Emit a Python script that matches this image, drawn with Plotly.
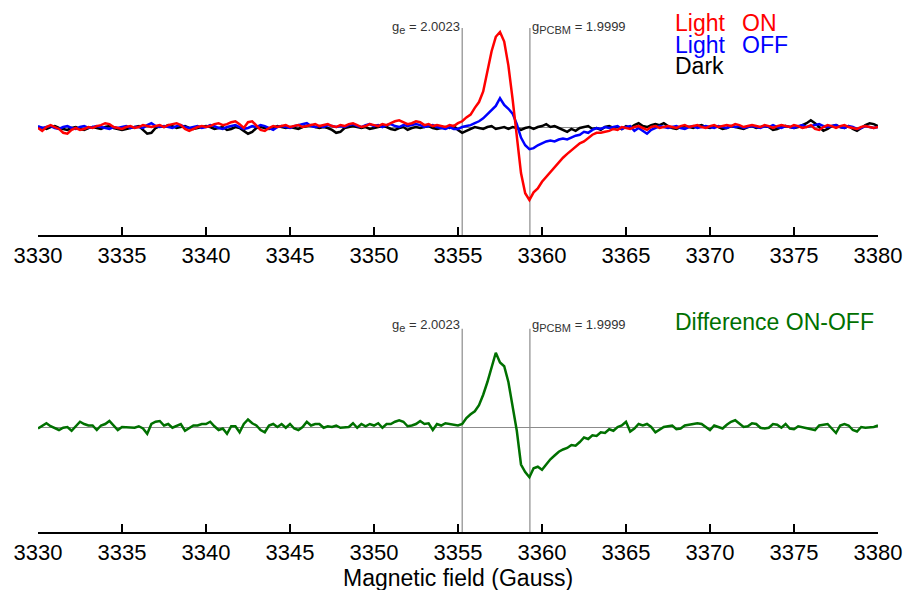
import numpy as np
import plotly.graph_objects as go

# Magnetic field sweep (Gauss), 0.25 G steps
field = np.linspace(3330, 3380, 201)

# EPR signal, light ON (a.u.)
light_on = [
    0.00, -0.03, 0.01, 0.03, 0.01, -0.01, -0.05, -0.06, -0.02, 0.00,
    -0.02, -0.01, 0.01, 0.00, 0.02, 0.03, 0.05, 0.04, 0.01, 0.00,
    -0.01, 0.01, 0.02, 0.00, 0.01, 0.03, 0.02, 0.01, 0.02, 0.03,
    0.01, 0.03, 0.04, 0.05, 0.03, -0.01, -0.03, -0.01, 0.01, 0.02,
    0.01, 0.02, 0.04, 0.05, 0.03, 0.04, 0.06, 0.07, 0.04, 0.00,
    0.06, 0.07, 0.03, -0.02, -0.03, 0.00, 0.02, 0.01, 0.02, 0.03,
    0.01, 0.02, 0.03, 0.01, 0.02, 0.03, 0.04, 0.02, 0.03, 0.04,
    0.02, 0.01, 0.03, 0.02, 0.04, 0.05, 0.03, 0.01, 0.02, 0.04,
    0.03, 0.02, 0.04, 0.03, 0.05, 0.07, 0.08, 0.06, 0.04, 0.05,
    0.07, 0.06, 0.03, 0.04, 0.02, 0.03, 0.02, 0.01, 0.03, 0.02,
    0.05, 0.07, 0.11, 0.14, 0.21, 0.27, 0.38, 0.60, 0.80, 0.95,
    1.00, 0.90, 0.65, 0.30, -0.08, -0.47, -0.68, -0.75, -0.67, -0.63,
    -0.56, -0.51, -0.45, -0.40, -0.35, -0.31, -0.27, -0.23, -0.20, -0.16,
    -0.14, -0.10, -0.07, -0.05, -0.05, -0.04, -0.03, -0.01, -0.02, 0.01,
    0.00, -0.01, 0.01, 0.02, 0.00, -0.02, 0.01, 0.02, 0.00, 0.01,
    0.02, 0.01, 0.00, 0.02, 0.03, 0.01, 0.02, 0.03, 0.01, 0.00,
    0.02, 0.03, 0.01, 0.02, 0.03, 0.02, 0.04, 0.03, 0.01, 0.02,
    0.03, 0.02, 0.01, 0.03, 0.02, 0.00, 0.02, 0.03, 0.02, 0.01,
    0.03, 0.02, 0.00, 0.01, 0.03, -0.01, -0.02, 0.01, 0.03, 0.02,
    0.00, 0.02, 0.03, 0.01, 0.00, -0.01, 0.01, 0.02, 0.01, 0.00,
    0.01,
]

# EPR signal, light OFF (a.u.)
light_off = [
    0.02, 0.00, 0.01, 0.02, 0.00, -0.01, 0.01, 0.02, 0.00, -0.01,
    0.01, 0.02, 0.00, 0.01, 0.02, 0.01, 0.00, -0.01, 0.01, 0.00,
    0.01, 0.02, 0.00, 0.01, 0.01, 0.00, 0.03, 0.05, 0.02, 0.01,
    0.02, 0.01, 0.00, 0.02, 0.03, 0.01, 0.00, 0.01, 0.02, 0.00,
    0.01, 0.03, 0.02, 0.00, -0.01, 0.01, 0.02, 0.03, 0.01, -0.01,
    0.00, 0.02, 0.01, 0.03, 0.02, 0.00, -0.02, 0.01, 0.02, 0.01,
    0.00, 0.02, 0.03, 0.04, 0.05, 0.02, 0.01, 0.02, 0.01, 0.03,
    0.02, 0.01, 0.02, 0.01, 0.03, 0.04, 0.02, 0.01, 0.03, 0.04,
    0.02, 0.03, 0.01, 0.03, 0.04, 0.02, 0.01, 0.03, 0.02, 0.03,
    0.04, 0.03, 0.01, 0.02, 0.03, 0.01, 0.00, -0.01, 0.01, -0.01,
    -0.01, 0.01, 0.02, 0.03, 0.05, 0.07, 0.10, 0.14, 0.19, 0.23,
    0.31, 0.24, 0.20, 0.15, 0.04, -0.10, -0.18, -0.22, -0.21, -0.18,
    -0.16, -0.14, -0.13, -0.14, -0.12, -0.11, -0.12, -0.10, -0.08, -0.07,
    -0.04, -0.05, -0.02, 0.00, -0.01, 0.01, 0.00, 0.01, 0.02, -0.01,
    0.01, 0.02, -0.03, 0.00, -0.03, -0.06, -0.02, 0.00, 0.02, 0.01,
    0.00, 0.01, 0.02, 0.00, -0.01, 0.01, 0.02, 0.00, 0.01, 0.02,
    0.01, 0.00, 0.02, 0.01, 0.00, 0.02, 0.01, 0.02, 0.00, 0.01,
    0.02, 0.01, 0.00, 0.02, 0.01, 0.03, 0.01, 0.00, 0.02, 0.01,
    0.00, 0.02, 0.03, 0.01, 0.02, 0.03, 0.04, 0.02, 0.01, 0.02,
    0.03, 0.01, 0.00, 0.02, 0.01, -0.01, 0.00, 0.02, 0.01, 0.00,
    0.01,
]

# EPR signal in the dark (a.u.)
dark = [
    0.01, 0.00, -0.01, 0.01, 0.02, 0.00, -0.01, -0.02, 0.00, 0.01,
    -0.01, -0.02, 0.00, 0.01, 0.00, -0.01, 0.01, 0.02, 0.00, -0.01,
    -0.02, -0.01, 0.00, 0.01, 0.02, -0.02, -0.06, -0.05, 0.00, 0.02,
    0.01, 0.03, 0.02, 0.00, 0.01, 0.02, 0.00, -0.01, 0.00, 0.01,
    0.02, 0.01, -0.01, 0.00, 0.01, -0.02, -0.01, 0.01, 0.00, -0.03,
    -0.06, -0.04, 0.00, 0.01, 0.00, -0.01, 0.00, 0.02, 0.01, 0.00,
    0.01, 0.00, -0.01, 0.01, 0.02, 0.03, 0.01, 0.00, 0.01, 0.00,
    -0.02, -0.05, -0.04, 0.00, 0.01, 0.02, 0.01, 0.00, 0.01, -0.01,
    0.00, 0.01, 0.02, 0.01, -0.01, -0.02, 0.00, 0.01, -0.02, 0.00,
    0.01, 0.00, 0.01, 0.02, 0.00, -0.01, 0.00, 0.01, 0.00, 0.02,
    -0.02, -0.05, -0.03, -0.01, 0.01, 0.00, -0.01, 0.01, 0.02, -0.01,
    0.00, 0.01, -0.01, 0.01, 0.00, -0.02, 0.00, 0.01, -0.01, 0.01,
    0.02, 0.04, 0.01, 0.02, 0.00, -0.02, -0.04, -0.01, -0.03, 0.00,
    0.01, 0.02, -0.01, 0.00, -0.02, 0.01, 0.02, 0.00, 0.01, -0.01,
    0.02, 0.00, 0.03, 0.05, 0.02, 0.01, 0.03, 0.04, 0.03, 0.05,
    0.02, 0.00, -0.01, 0.01, 0.02, 0.01, 0.00, 0.02, 0.03, 0.01,
    0.00, 0.02, 0.01, -0.01, 0.00, 0.02, 0.01, 0.00, -0.01, 0.01,
    0.02, 0.00, 0.01, 0.02, 0.01, -0.02, -0.01, 0.01, 0.02, 0.01,
    0.00, 0.01, 0.03, 0.05, 0.08, 0.05, 0.01, -0.03, -0.01, 0.02,
    0.03, 0.01, 0.00, 0.02, -0.01, -0.03, 0.00, 0.03, 0.05, 0.04,
    0.02,
]

# Light-induced difference spectrum, ON minus OFF (a.u.)
difference = [
    -0.02, 0.02, 0.05, 0.01, -0.02, -0.04, -0.01, 0.00, -0.05, 0.01,
    0.07, 0.04, 0.02, 0.02, -0.04, 0.02, 0.04, 0.08, 0.02, -0.04,
    0.00, 0.00, 0.00, -0.01, 0.01, -0.02, -0.09, 0.04, 0.07, 0.08,
    0.02, 0.04, -0.01, 0.01, 0.04, -0.05, -0.02, 0.02, 0.02, 0.04,
    0.04, 0.07, 0.01, -0.04, -0.02, -0.09, 0.01, 0.01, -0.07, 0.04,
    0.10, 0.05, 0.02, -0.04, -0.07, 0.02, 0.04, 0.00, 0.04, -0.01,
    0.04, -0.02, -0.04, 0.00, 0.07, 0.02, 0.04, 0.04, -0.01, 0.01,
    0.00, 0.02, -0.01, -0.01, 0.00, 0.05, -0.01, 0.04, 0.01, 0.04,
    0.02, 0.05, -0.01, 0.04, 0.04, 0.07, 0.09, 0.07, 0.01, 0.02,
    0.04, 0.08, 0.04, 0.05, -0.04, 0.04, 0.02, 0.05, 0.04, 0.02,
    0.02, 0.04, 0.12, 0.17, 0.21, 0.29, 0.43, 0.60, 0.80, 0.99,
    0.86, 0.81, 0.60, 0.30, -0.05, -0.50, -0.60, -0.67, -0.55, -0.53,
    -0.57, -0.50, -0.43, -0.38, -0.33, -0.30, -0.28, -0.24, -0.25, -0.20,
    -0.14, -0.16, -0.11, -0.12, -0.07, -0.08, -0.03, -0.05, 0.00, 0.02,
    0.07, -0.06, -0.02, 0.04, 0.02, 0.04, 0.00, -0.07, -0.03, 0.00,
    0.01, 0.02, -0.03, -0.02, 0.02, 0.03, 0.04, 0.05, 0.04, 0.00,
    -0.04, 0.02, 0.00, -0.02, 0.03, 0.07, 0.09, 0.04, 0.00, 0.01,
    0.05, 0.04, -0.01, -0.02, -0.01, 0.04, 0.03, -0.01, 0.04, -0.02,
    -0.03, 0.01, 0.00, -0.01, -0.02, -0.04, 0.02, 0.03, 0.04, -0.02,
    -0.08, 0.02, 0.04, 0.02, -0.04, -0.06, 0.00, -0.01, -0.01, 0.00,
    0.02,
]

tick_values = [3330, 3335, 3340, 3345, 3350, 3355, 3360, 3365, 3370, 3375, 3380]

# Resonance positions of the free electron and of PCBM
G_E_FIELD = 3355.25
G_PCBM_FIELD = 3359.28

RED = "#ff0000"
BLUE = "#0000ff"
BLACK = "#000000"
GREEN = "#007000"
GUIDE = "#8c8c8c"
FONT = "Liberation Sans, Arial, sans-serif"

fig = go.Figure()

fig.add_trace(go.Scatter(x=field, y=dark, mode="lines", line=dict(color=BLACK, width=2.5),
                         xaxis="x", yaxis="y", showlegend=False))
fig.add_trace(go.Scatter(x=field, y=light_off, mode="lines", line=dict(color=BLUE, width=2.5),
                         xaxis="x", yaxis="y", showlegend=False))
fig.add_trace(go.Scatter(x=field, y=light_on, mode="lines", line=dict(color=RED, width=2.5),
                         xaxis="x", yaxis="y", showlegend=False))
fig.add_trace(go.Scatter(x=field, y=difference, mode="lines", line=dict(color=GREEN, width=2.5),
                         xaxis="x2", yaxis="y2", showlegend=False))

x_common = dict(
    range=[3330, 3380], tickvals=tick_values, ticks="inside", ticklen=8, tickwidth=2,
    tickcolor=BLACK, showline=True, linewidth=2, linecolor=BLACK, showgrid=False,
    zeroline=False, tickfont=dict(family=FONT, size=22, color=BLACK), domain=[0, 1],
)
y_common = dict(
    showticklabels=False, ticks="", showgrid=False, showline=False,
    zeroline=True, zerolinecolor=GUIDE, zerolinewidth=1,
)

shapes = []
for yref in ("y domain", "y2 domain"):
    top = 0.92 if yref == "y domain" else 0.876
    for xv in (G_E_FIELD, G_PCBM_FIELD):
        shapes.append(dict(type="line", xref="x" if yref == "y domain" else "x2", yref=yref,
                           x0=xv, x1=xv, y0=0, y1=top, layer="below",
                           line=dict(color=GUIDE, width=1.2)))

sub = "<sub><span style='font-size:11px'>{}</span></sub>"
annotations = []
for xr, yr, yv in (("x", "y", 1.05), ("x2", "y2", 1.35)):
    annotations.append(dict(x=G_E_FIELD, y=yv, xref=xr, yref=yr, xanchor="right", yanchor="middle",
                            text="g" + sub.format("e") + " = 2.0023", showarrow=False,
                            font=dict(family=FONT, size=13, color="#333333")))
    annotations.append(dict(x=G_PCBM_FIELD, y=yv, xref=xr, yref=yr, xanchor="left", yanchor="middle",
                            text="g" + sub.format("PCBM") + " = 1.9999", showarrow=False,
                            font=dict(family=FONT, size=13, color="#333333")))

label_font = lambda c: dict(family=FONT, size=23, color=c)
for text, xp, yp, c in (
    ("Light", 0.7556, 0.975, RED), ("ON", 0.8363, 0.975, RED),
    ("Light", 0.7556, 0.9335, BLUE), ("OFF", 0.8363, 0.9335, BLUE),
    ("Dark", 0.7556, 0.8927, BLACK),
    ("Difference ON-OFF", 0.7556, 0.4023, GREEN),
):
    annotations.append(dict(x=xp, y=yp, xref="paper", yref="paper", xanchor="left", yanchor="middle",
                            text=text, showarrow=False, font=label_font(c)))

annotations.append(dict(x=0.5, y=-0.088, xref="paper", yref="paper", xanchor="center", yanchor="middle",
                        text="Magnetic field (Gauss)", showarrow=False, font=label_font(BLACK)))

fig.update_layout(
    width=912, height=590,
    margin=dict(l=38, r=31, t=10, b=58),
    paper_bgcolor="white", plot_bgcolor="white",
    xaxis=dict(anchor="y", **x_common),
    yaxis=dict(domain=[0.569, 1.0], range=[-1.1146, 1.2292], **y_common),
    xaxis2=dict(anchor="y2", **x_common),
    yaxis2=dict(domain=[0.0, 0.4444], range=[-1.40, 1.6933], **y_common),
    shapes=shapes,
    annotations=annotations,
    font=dict(family=FONT),
)

fig.write_html("out.html")
